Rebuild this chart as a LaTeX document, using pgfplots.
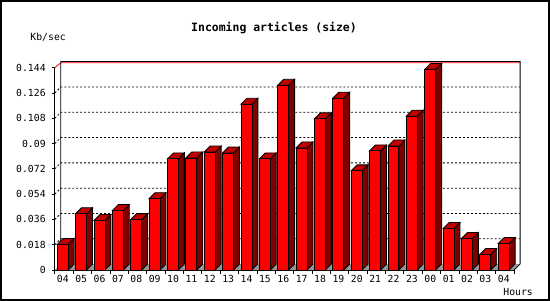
\documentclass[border=0pt]{standalone}
\usepackage{pgfplots}
\usepackage{pgfplotstable}
\pgfplotsset{compat=1.18}
\usepackage{fontspec}
\newfontfamily\mono{DejaVu Sans Mono}
\definecolor{barfront}{RGB}{255,0,0}
\definecolor{bartop}{RGB}{192,0,0}
\definecolor{barside}{RGB}{128,0,0}
\definecolor{floorgray}{RGB}{150,150,150}
\pgfdeclareplotmark{nothing}{}
\pgfplotstableread{
hour v
04 0.0182
05 0.0401
06 0.0352
07 0.0423
08 0.0359
09 0.0508
10 0.0791
11 0.0798
12 0.0840
13 0.0833
14 0.1180
15 0.0791
16 0.1315
17 0.0869
18 0.1076
19 0.1223
20 0.0706
21 0.0848
22 0.0883
23 0.1095
00 0.1428
01 0.0295
02 0.0224
03 0.0111
04 0.0189
}\data
\begin{document}
\begin{tikzpicture}
\begin{axis}[
  name=ax, at={(0,0)}, anchor=south west,
  x=18.44bp, y=1410bp,
  xmin=0, xmax=25, ymin=0, ymax=0.144,
  enlargelimits=false,
  clip=false,
  axis lines*=left,
  axis line style={line width=0.8bp, black},
  tick align=outside,
  major tick length=3bp,
  scaled y ticks=false,
  ytick={0,0.018,0.036,0.054,0.072,0.09,0.108,0.126,0.144},
  yticklabel style={/pgf/number format/fixed, /pgf/number format/precision=3},
  xtick={0.5,1.5,...,24.5},
  xticklabels={04,05,06,07,08,09,10,11,12,13,14,15,16,17,18,19,20,21,22,23,00,01,02,03,04},
  xtick style={draw=none},
  ytick style={line width=0.8bp, black},
  tick label style={font=\mono\fontsize{9.8bp}{11bp}\selectfont, inner sep=0pt},
  yticklabel style={xshift=-6bp},
  xticklabel style={xshift=-1.2bp, yshift=-2bp},
  /pgf/number format/assume math mode=true,
]
% floor
\fill[floorgray] (axis cs:0,0) -- (axis cs:25,0) -- ([shift={(6bp,6bp)}]axis cs:25,0) -- ([shift={(6bp,6bp)}]axis cs:0,0) -- cycle;
% back plane
\draw[red, line width=0.8bp] (axis cs:0,0.144) -- ([shift={(6bp,4.9bp)}]axis cs:0,0.144) -- ([shift={(6bp,4.9bp)}]axis cs:25,0.144);
\draw[line width=0.8bp] ([shift={(6bp,6bp)}]axis cs:0,0) -- ([shift={(6bp,6.2bp)}]axis cs:0,0.144) -- ([shift={(6bp,6.2bp)}]axis cs:25,0.144) -- ([shift={(6bp,6bp)}]axis cs:25,0) -- (axis cs:25,0);
% grid
\pgfplotsinvokeforeach{0.018,0.036,0.054,0.072,0.09,0.108,0.126}{
  \draw[line width=0.8bp, dash pattern=on 2bp off 2bp] (axis cs:0,#1) -- ([shift={(6bp,6bp)}]axis cs:0,#1) -- ([shift={(6bp,6bp)}]axis cs:25,#1);
}
% category boundary ticks
\pgfplotsinvokeforeach{0,1,...,25}{
  \draw[line width=0.8bp] (axis cs:#1,0) -- ++(0,-4bp);
}
% 3D bars
\addplot[scatter, only marks, mark=nothing,
  point meta=explicit symbolic,
  scatter/@pre marker code/.code={%
    \pgfmathsetlengthmacro\H{\pgfplotspointmeta*1410bp}%
    \filldraw[fill=barside, draw=black, line width=0.8bp, line join=miter] (4.2bp,-\H) -- (4.2bp,0pt) -- (10.2bp,6bp) -- (10.2bp,{6bp-\H}) -- cycle;
    \filldraw[fill=bartop, draw=black, line width=0.8bp, line join=miter] (-6.8bp,0pt) -- (4.2bp,0pt) -- (10.2bp,6bp) -- (-0.8bp,6bp) -- cycle;
    \filldraw[fill=barfront, draw=black, line width=0.8bp] (-6.8bp,-\H) rectangle (4.2bp,0pt);
  },
  scatter/@post marker code/.code={},
] table[x expr=\coordindex+0.5, y=v, meta=v] {\data};
\end{axis}
\node[font=\mono\bfseries\fontsize{11.5bp}{13bp}\selectfont] at ([shift={(220bp,243bp)}]ax.south west) {Incoming articles (size)};
\node[font=\mono\fontsize{9.8bp}{11bp}\selectfont] at ([shift={(-6.7bp,233.3bp)}]ax.south west) {Kb/sec};
\node[font=\mono\fontsize{9.8bp}{11bp}\selectfont] at ([shift={(465bp,-22.3bp)}]ax.south west) {Hours};
\draw[line width=2bp] ([shift={(-54bp,-30bp)}]ax.south west) rectangle ([shift={(496bp,270bp)}]ax.south west);
\end{tikzpicture}
\end{document}
